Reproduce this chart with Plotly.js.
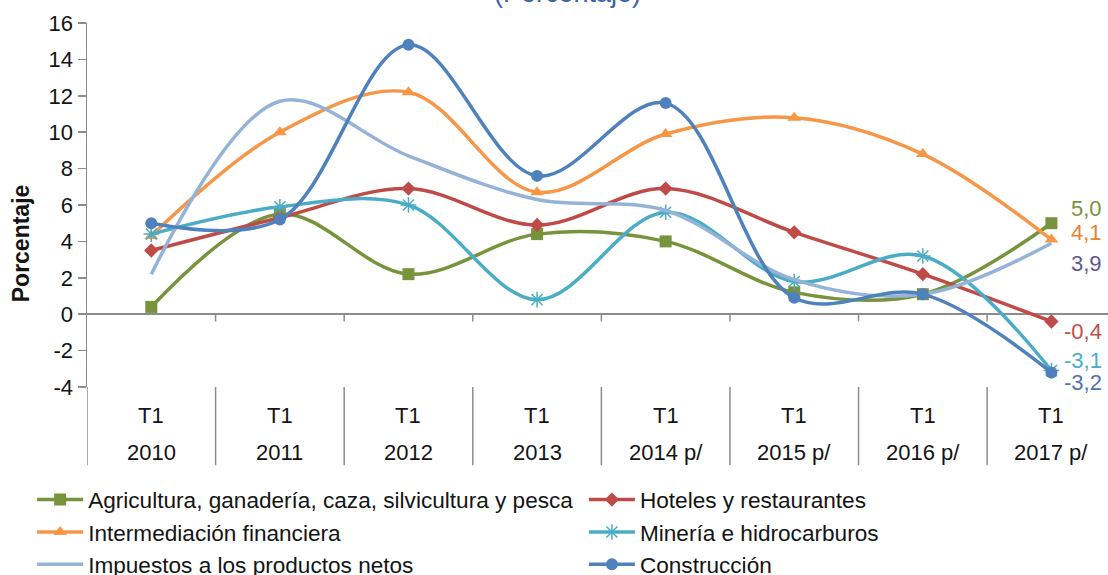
<!DOCTYPE html>
<html>
<head>
<meta charset="utf-8">
<script src="https://cdn.plot.ly/plotly-3.0.1.min.js"></script>
<style>html,body{margin:0;padding:0;background:#fff;}#chart{width:1108px;height:575px;}</style>
</head>
<body>
<div id="chart"></div>
<script>
// ---- data ----
const categories = ['2010', '2011', '2012', '2013', '2014 p/', '2015 p/', '2016 p/', '2017 p/'];
const quarters = ['T1', 'T1', 'T1', 'T1', 'T1', 'T1', 'T1', 'T1'];
const yTickValues = [-4, -2, 0, 2, 4, 6, 8, 10, 12, 14, 16];
const yTickLabels = ['-4', '-2', '0', '2', '4', '6', '8', '10', '12', '14', '16'];
const seriesNames = [
  'Agricultura, ganadería, caza, silvicultura y pesca',
  'Hoteles y restaurantes',
  'Intermediación financiera',
  'Minería e hidrocarburos',
  'Impuestos a los productos netos',
  'Construcción'
];
const agricultura = [0.4, 5.5, 2.2, 4.4, 4.0, 1.2, 1.1, 5.0];
const hoteles = [3.5, 5.3, 6.9, 4.9, 6.9, 4.5, 2.2, -0.4];
const intermediacion = [4.3, 10.0, 12.2, 6.7, 9.9, 10.8, 8.8, 4.1];
const mineria = [4.4, 5.9, 6.0, 0.8, 5.6, 1.8, 3.2, -3.1];
const impuestos = [2.2, 11.7, 8.7, 6.3, 5.7, 1.9, 1.1, 3.9];
const construccion = [5.0, 5.2, 14.8, 7.6, 11.6, 0.9, 1.1, -3.2];
const seriesValues = [agricultura, hoteles, intermediacion, mineria, impuestos, construccion];

// ---- styles ----
const colors = ['#77933c', '#be4b48', '#f79646', '#4bacc6', '#95b3d7', '#4f81bd'];
const labelColors = ['#77933c', '#c0504d', '#f07f2a', '#4bacc6', '#5f5a8a', '#4f72b0'];
const markerSymbols = ['square', 'diamond', 'triangle-up', 'asterisk-open', null, 'circle'];
const markerSizes = [12, 11, 12, 13, 0, 12];
const legendOf = ['legend', 'legend2', 'legend', 'legend2', 'legend', 'legend2'];
const labelShift = [15, -10, 7, 10, -20, -10];
const textFont = 'Arial, "Liberation Sans", sans-serif';
const textColor = '#141414';
const axisGray = '#8c8c8c';
const fs = 22;

const traces = seriesNames.map((name, i) => {
  const t = {
    type: 'scatter',
    x: categories,
    y: seriesValues[i],
    name: name,
    legend: legendOf[i],
    legendgroup: 'g' + i,
    mode: markerSymbols[i] ? 'lines+markers' : 'lines',
    line: {color: colors[i], width: 3.5, shape: 'spline', smoothing: 1},
    hoverinfo: 'x+y+name'
  };
  if (markerSymbols[i]) {
    t.marker = {symbol: markerSymbols[i], size: markerSizes[i], color: colors[i],
                line: {color: colors[i], width: markerSymbols[i] === 'asterisk-open' ? 1.5 : 0}};
  }
  return t;
});

const n = categories.length;
const annotations = [];
// end-of-series value labels
seriesValues.forEach((vals, i) => {
  annotations.push({
    xref: 'x', yref: 'y', x: n - 1, y: vals[n - 1],
    text: vals[n - 1].toFixed(1).replace('.', ','),
    showarrow: false, xanchor: 'right', yanchor: 'middle',
    xshift: 53, yshift: labelShift[i],
    font: {family: textFont, size: fs, color: labelColors[i]}
  });
});
// two-level category labels under the plot
categories.forEach((c, i) => {
  annotations.push({
    xref: 'x', yref: 'paper', x: i, y: 0, yanchor: 'middle', yshift: -28,
    text: quarters[i], showarrow: false,
    font: {family: textFont, size: fs, color: textColor}
  });
  annotations.push({
    xref: 'x', yref: 'paper', x: i, y: 0, yanchor: 'middle', yshift: -65,
    text: c, showarrow: false,
    font: {family: textFont, size: fs, color: textColor}
  });
});
// title (partially off the top)
annotations.push({
  xref: 'paper', yref: 'paper', x: 0.471, y: 1, xanchor: 'center', yanchor: 'bottom', yshift: 13,
  text: '(Porcentaje)', showarrow: false,
  font: {family: textFont, size: 27, color: '#3a63a8'}
});
// y-axis title
annotations.push({
  xref: 'paper', yref: 'paper', x: -0.0646, y: 0.395, xanchor: 'center', yanchor: 'middle',
  text: '<b>Porcentaje</b>', textangle: -90, showarrow: false,
  font: {family: textFont, size: 23, color: textColor}
});

// category separators below the plot and small ticks on the zero line
const shapes = [];
for (let i = 0; i < n; i++) {
  shapes.push({type: 'line', xref: 'x', yref: 'paper', x0: i - 0.5, x1: i - 0.5, y0: 0, y1: -0.215,
               line: {color: axisGray, width: 1.5}});
  if (i > 0) {
    shapes.push({type: 'line', xref: 'x', yref: 'y', x0: i - 0.5, x1: i - 0.5, y0: 0, y1: -0.4,
                 line: {color: axisGray, width: 1.5}});
  }
}

const legendBase = {
  xref: 'container', yref: 'container', xanchor: 'left', yanchor: 'top',
  orientation: 'v', itemwidth: 46, bgcolor: 'rgba(0,0,0,0)', borderwidth: 0,
  tracegroupgap: 0,
  font: {family: textFont, size: 22.6, color: textColor}
};

const layout = {
  width: 1108, height: 575,
  margin: {l: 87, r: 0, t: 23, b: 188, autoexpand: false},
  paper_bgcolor: '#fff', plot_bgcolor: '#fff',
  font: {family: textFont, size: fs, color: textColor},
  showlegend: true,
  xaxis: {
    type: 'category', range: [-0.5, 7.44], automargin: false,
    showline: false, ticks: '', showticklabels: false, showgrid: false, zeroline: false
  },
  yaxis: {
    range: [-4, 16], tickmode: 'array', tickvals: yTickValues, ticktext: yTickLabels,
    automargin: false,
    showline: true, linecolor: axisGray, linewidth: 1.5,
    ticks: 'outside', ticklen: 8, tickcolor: axisGray, tickwidth: 1.5,
    showgrid: false, zeroline: true, zerolinecolor: axisGray, zerolinewidth: 1.5,
    tickfont: {family: textFont, size: fs, color: textColor}
  },
  legend: Object.assign({}, legendBase, {x: 0.029, y: 0.168}),
  legend2: Object.assign({}, legendBase, {x: 0.527, y: 0.168}),
  annotations: annotations,
  shapes: shapes
};

Plotly.newPlot('chart', traces, layout, {displayModeBar: false, staticPlot: true});
</script>
</body>
</html>
